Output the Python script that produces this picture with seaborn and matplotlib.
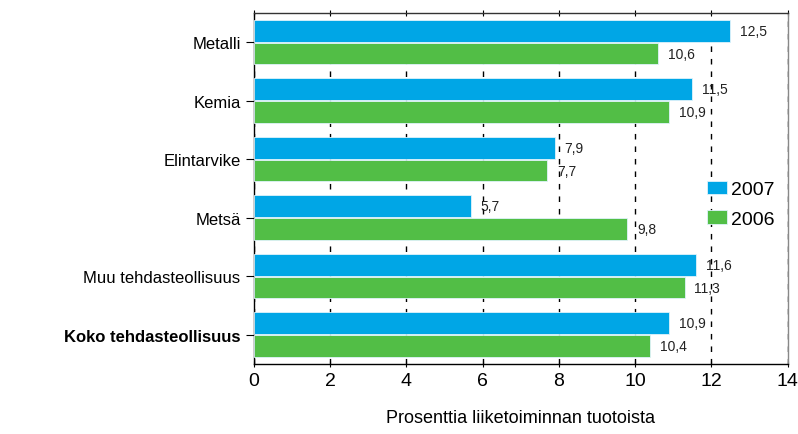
import pandas as pd
import numpy as np
import matplotlib
matplotlib.use('Agg')
import matplotlib.pyplot as plt
import seaborn as sns

# %% Data
categories = ['Metalli', 'Kemia', 'Elintarvike', 'Metsä', 'Muu tehdasteollisuus', 'Koko tehdasteollisuus']
values_2007 = [12.5, 11.5, 7.9, 5.7, 11.6, 10.9]
values_2006 = [10.6, 10.9, 7.7, 9.8, 11.3, 10.4]
years = ['2007', '2006']
colors = ['#00A6E6', '#52BE46']

df = pd.DataFrame({
    'Toimiala': categories * 2,
    'Vuosi': [years[0]] * len(categories) + [years[1]] * len(categories),
    'Arvo': values_2007 + values_2006,
})

# %% Plot
sns.set_style('white')
plt.rcParams['font.family'] = ['Liberation Sans', 'DejaVu Sans']
plt.rcParams['text.color'] = 'black'
plt.rcParams['xtick.color'] = 'black'
plt.rcParams['ytick.color'] = 'black'
plt.rcParams['axes.labelcolor'] = 'black'

fig = plt.figure(figsize=(7.98, 4.35), dpi=100)
ax = fig.add_axes([0.318, 0.161, 0.669, 0.807])

sns.barplot(data=df, y='Toimiala', x='Arvo', hue='Vuosi', hue_order=years,
            order=categories, palette=colors, orient='h', width=0.78, gap=0.05,
            saturation=1, edgecolor='#dff3fb', linewidth=0.6, ax=ax, zorder=3)

# value labels
for container in ax.containers:
    labels = [f'{v:.1f}'.replace('.', ',') for v in container.datavalues]
    ax.bar_label(container, labels=labels, padding=7, fontsize=10, color='#222222')

ax.set_xlim(0, 14)
ax.set_xticks(range(0, 15, 2))
ax.tick_params(axis='x', labelsize=14, length=5, direction='inout', top=True, bottom=True)
ax.tick_params(axis='y', labelsize=12, length=6, direction='out', left=True)
ax.grid(axis='x', color='black', linestyle=(0, (4, 5)), linewidth=1, zorder=0)
ax.set_axisbelow(True)
for s in ax.spines.values():
    s.set_color('black')
    s.set_linewidth(1)
ax.spines['top'].set_color('#333333')
ax.spines['right'].set_color('#888888')

ax.set_ylabel('')
ax.set_xlabel('Prosenttia liiketoiminnan tuotoista', fontsize=13, labelpad=14)
ax.get_yticklabels()[-1].set_fontweight('bold')

leg = ax.legend(loc='center right', bbox_to_anchor=(1.0, 0.455), frameon=False,
                fontsize=14, handlelength=1.0, handleheight=0.7, handletextpad=0.2,
                labelspacing=0.6, borderaxespad=0.3)

fig.savefig('out.png', dpi=100)
